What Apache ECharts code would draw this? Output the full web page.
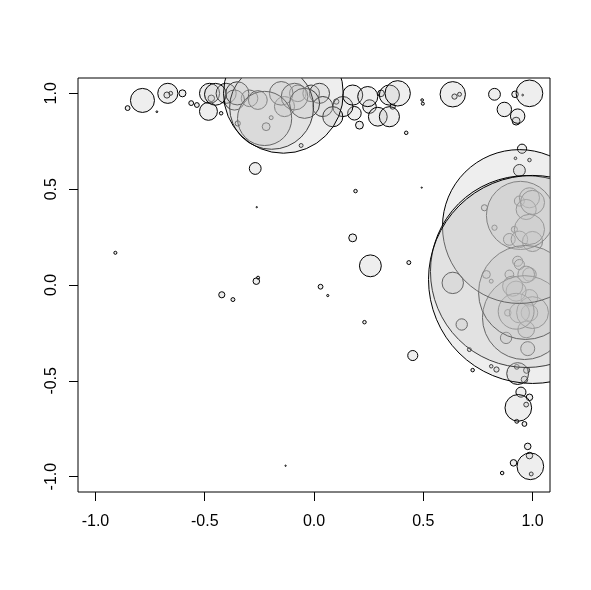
<!DOCTYPE html>
<html>
<head>
<meta charset="utf-8">
<script src="https://cdn.jsdelivr.net/npm/echarts@6/dist/echarts.min.js"></script>
<style>
  html, body { margin: 0; padding: 0; background: #fff; }
  #chart { width: 591px; height: 590px; }
</style>
</head>
<body>
<div id="chart"></div>
<script>
// circles as [x, y, radius] in data units (radius measured on the x scale)
const looseCircles = [
  [-0.909, 0.168, 0.007], [-0.262, 0.406, 0.003], [-0.269, 0.608, 0.027],
  [-0.264, 0.020, 0.015], [-0.256, 0.038, 0.007], [-0.422, -0.051, 0.014],
  [-0.371, -0.076, 0.009], [0.030, -0.009, 0.011], [0.063, -0.055, 0.005],
  [0.231, -0.194, 0.008], [0.452, -0.368, 0.023], [-0.130, -0.943, 0.003],
  [0.190, 0.490, 0.008], [0.493, 0.508, 0.0025], [0.177, 0.246, 0.018],
  [0.258, 0.100, 0.050], [0.434, 0.117, 0.009], [0.422, 0.794, 0.008],
  [-0.059, 0.728, 0.009], [0.861, -0.981, 0.008], [0.676, -0.206, 0.026],
  [0.711, -0.337, 0.009], [0.726, -0.444, 0.008], [0.635, 0.011, 0.049],
  [0.495, 0.965, 0.006], [0.498, 0.946, 0.007]
];

const topLeftCircles = [
  [-0.853, 0.923, 0.011], [-0.785, 0.963, 0.055], [-0.719, 0.904, 0.004],
  [-0.669, 1.000, 0.046], [-0.673, 0.991, 0.014], [-0.656, 1.000, 0.009],
  [-0.602, 1.000, 0.016], [-0.562, 0.949, 0.011], [-0.536, 0.939, 0.011],
  [-0.483, 0.906, 0.041], [-0.478, 1.000, 0.046], [-0.451, 0.995, 0.050],
  [-0.402, 1.000, 0.046], [-0.351, 1.000, 0.053], [-0.470, 0.974, 0.015],
  [-0.425, 0.896, 0.008], [-0.364, 0.965, 0.046], [-0.349, 0.843, 0.012]
];

const topCircles = [
  [-0.140, 1.000, 0.274], [-0.194, 0.927, 0.192], [-0.226, 0.869, 0.124],
  [-0.257, 0.965, 0.043], [-0.196, 0.873, 0.009], [-0.219, 0.826, 0.018],
  [-0.295, 0.974, 0.038], [-0.089, 0.983, 0.061], [-0.043, 0.948, 0.069],
  [-0.150, 1.000, 0.054], [-0.074, 1.000, 0.038], [-0.013, 1.000, 0.038],
  [-0.135, 0.931, 0.046], [0.025, 1.000, 0.046], [0.040, 0.931, 0.046],
  [0.102, 0.957, 0.012], [0.132, 0.931, 0.046], [0.177, 0.991, 0.046],
  [0.246, 0.983, 0.046], [0.345, 0.991, 0.046], [0.383, 1.000, 0.058],
  [0.345, 0.878, 0.046], [0.292, 0.878, 0.043], [0.208, 0.834, 0.018],
  [0.185, 0.896, 0.031], [0.086, 0.878, 0.046], [0.254, 0.931, 0.031],
  [0.360, 0.931, 0.012], [0.307, 1.000, 0.015]
];

const topRightCircles = [
  [0.635, 0.995, 0.058], [0.643, 0.983, 0.012], [0.666, 0.995, 0.009],
  [0.826, 0.995, 0.027], [0.986, 1.000, 0.061], [0.920, 0.995, 0.015],
  [0.955, 0.991, 0.004], [0.871, 0.916, 0.033], [0.932, 0.881, 0.033],
  [0.925, 0.855, 0.018], [0.952, 0.711, 0.021], [0.922, 0.661, 0.006],
  [0.986, 0.652, 0.008], [0.940, 0.598, 0.027]
];

const rightCircles = [
  [0.940, 0.305, 0.352], [1.000, 0.029, 0.476], [0.972, 0.070, 0.439],
  [0.945, 0.363, 0.156], [0.968, -0.039, 0.215], [0.963, -0.170, 0.192],
  [0.986, 0.455, 0.046], [1.000, 0.431, 0.055], [0.971, 0.394, 0.046],
  [0.940, 0.438, 0.023], [0.780, 0.403, 0.014], [0.826, 0.299, 0.012],
  [0.917, 0.290, 0.014], [0.986, 0.290, 0.069], [0.894, 0.238, 0.027],
  [0.940, 0.238, 0.038], [1.000, 0.227, 0.046], [0.932, 0.124, 0.023],
  [0.986, 0.055, 0.031], [0.894, 0.055, 0.020], [0.811, 0.020, 0.009],
  [0.789, 0.055, 0.018], [0.925, -0.032, 0.046], [0.986, -0.067, 0.038],
  [0.887, -0.145, 0.015], [0.940, -0.145, 0.046], [0.986, -0.145, 0.038],
  [0.879, -0.276, 0.026], [0.971, -0.232, 0.038], [0.978, -0.332, 0.032],
  [0.835, -0.441, 0.012], [0.811, -0.424, 0.008], [0.932, -0.462, 0.050],
  [0.928, -0.427, 0.011], [0.973, -0.445, 0.014], [0.963, -0.493, 0.015],
  [0.947, -0.559, 0.023], [0.986, -0.586, 0.015], [0.925, -0.137, 0.082],
  [1.000, -0.144, 0.073], [0.971, 0.055, 0.038], [0.909, -0.006, 0.046],
  [0.940, 0.107, 0.023]
];

const bottomRightCircles = [
  [0.935, -0.641, 0.061], [0.928, -0.711, 0.009], [0.963, -0.725, 0.011],
  [0.971, -0.624, 0.011], [0.990, -0.946, 0.061], [0.994, -0.986, 0.009],
  [0.913, -0.928, 0.015], [0.978, -0.842, 0.015], [0.986, -0.890, 0.015]
];

const tickValues = [-1, -0.5, 0, 0.5, 1];
const tickLabels = ['-1.0', '-0.5', '0.0', '0.5', '1.0'];

// small circles first so the big ones are drawn on top
const circles = [].concat(looseCircles, topLeftCircles, topCircles,
  topRightCircles, rightCircles, bottomRightCircles)
  .sort((a, b) => a[2] - b[2]);

const axisCommon = {
  type: 'value',
  min: -1.08,
  max: 1.08,
  splitLine: { show: false },
  axisLine: { show: false, onZero: false },
  axisTick: {
    show: true,
    length: 9,
    customValues: tickValues,
    lineStyle: { color: '#000', width: 1 }
  }
};

const labelStyle = {
  color: '#000',
  fontSize: 16,
  fontFamily: 'Liberation Sans, Arial, sans-serif',
  customValues: tickValues,
  formatter: (v) => {
    const i = tickValues.findIndex((t) => Math.abs(t - v) < 1e-9);
    return i >= 0 ? tickLabels[i] : '';
  }
};

const chart = echarts.init(document.getElementById('chart'), null, { renderer: 'canvas' });

chart.setOption({
  animation: false,
  backgroundColor: '#fff',
  grid: {
    show: true,
    left: 78,
    top: 78,
    width: 472,
    height: 414,
    borderColor: '#000',
    borderWidth: 1,
    backgroundColor: 'transparent'
  },
  xAxis: Object.assign({}, axisCommon, {
    axisLabel: Object.assign({}, labelStyle, { margin: 22 })
  }),
  yAxis: Object.assign({}, axisCommon, {
    axisLabel: Object.assign({}, labelStyle, { margin: 18, rotate: 90 })
  }),
  series: [
    {
      type: 'custom',
      clip: true,
      encode: { x: 0, y: 1 },
      data: circles,
      renderItem: (params, api) => {
        const c = api.coord([api.value(0), api.value(1)]);
        const r = api.size([api.value(2), 0])[0];
        return {
          type: 'circle',
          shape: { cx: c[0], cy: c[1], r: Math.max(r, 0.6) },
          style: {
            fill: 'rgba(200,200,200,0.3)',
            stroke: '#000',
            lineWidth: 1
          }
        };
      }
    }
  ]
});
</script>
</body>
</html>
